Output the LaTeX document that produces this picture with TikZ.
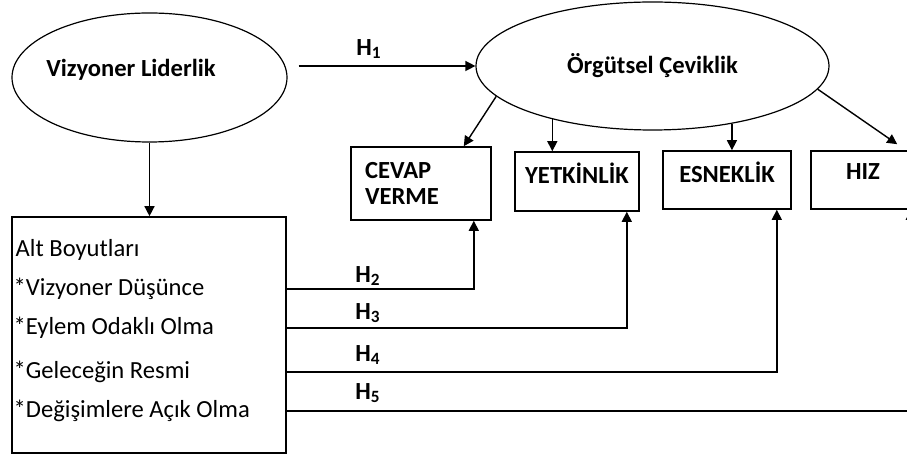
\documentclass[tikz,border=0pt]{standalone}
\usepackage{fontspec}
\setmainfont{Carlito}
\usetikzlibrary{shapes.geometric,arrows.meta}

\begin{document}
\begin{tikzpicture}[x=0.5pt, y=-0.5pt, line width=0.7pt,
    >={Triangle[length=5pt,width=5pt]},
    every node/.style={font=\fontsize{12.3}{13}\selectfont},
    oval/.style={ellipse, draw, line width=0.6pt, inner sep=0pt},
    box/.style={rectangle, draw, line width=0.8pt, inner sep=0pt, font=\fontsize{12.3}{13}\selectfont\bfseries},
    item/.style={anchor=west, inner sep=0pt},
    hlab/.style={font=\fontsize{12.3}{13}\selectfont\bfseries}]
    \useasboundingbox (0,0) rectangle (907,459);
    \clip (0,0) rectangle (907,459);

    % Constructs
    \node[oval, minimum width=137.5pt, minimum height=64.5pt] (vl) at (149.5,77.5) {};
    \node[hlab] (vltext) at (131,70) {Vizyoner Liderlik};
    \node[oval, minimum width=176.5pt, minimum height=64pt, font=\fontsize{12.3}{13}\selectfont\bfseries] (oc) at (652.5,66) {Örgütsel Çeviklik};

    % Dimensions
    \node[box, minimum width=70pt, minimum height=36.5pt, text width=56pt, align=left] (cevap) at (421,183.5) {CEVAP\\VERME};
    \node[box, minimum width=62pt, minimum height=29.5pt, text depth=8.5pt] (yet) at (577,181.5) {YETKİNLİK};
    \node[box, minimum width=64pt, minimum height=29pt, text depth=8pt] (esn) at (727,180) {ESNEKLİK};
    \node[box, minimum width=52pt, minimum height=29pt, text depth=8pt] (hiz) at (863,180) {HIZ};

    % Sub-dimensions
    \node[rectangle, draw, line width=0.8pt, minimum width=137pt, minimum height=118pt, inner sep=0pt] (alt) at (149,335) {};
    \node[item] (baslik) at (15,250) {Alt Boyutları};
    \foreach \t/\y [count=\i] in {Vizyoner Düşünce/289, Eylem Odaklı Olma/328, Geleceğin Resmi/372, Değişimlere Açık Olma/411} {
        \node[item] (d\i) at (13,\y) {*\t};
    }

    % Arrows
    \draw[->] ([xshift=5.5pt]vl.east |- oc.west) -- (oc.west);
    \draw[->] (vl.south) -- (vl.south |- alt.north);
    \draw[->] (oc.191) -- ([xshift=-14pt]cevap.north east);
    \draw[->] (oc.208) -- (oc.208 |- yet.north);
    \draw[->] (oc.324) -- (oc.324 |- esn.north);
    \draw[->] (oc.352) -- ([shift={(43.5pt,3pt)}]hiz.north west);
    \foreach \i/\b/\dx in {1/cevap/9, 2/yet/6.5, 3/esn/7.5, 4/hiz/2.5} {
        \draw[->] (alt.east |- d\i) -| ([xshift=-\dx pt]\b.south east);
    }

    % Hypotheses
    \node[hlab] (h1) at (369,49) {H\textsubscript{1}};
    \foreach \i/\y in {2/276, 3/313, 4/355, 5/393} {
        \node[hlab] (h\i) at (368,\y) {H\textsubscript{\i}};
    }
\end{tikzpicture}
\end{document}
